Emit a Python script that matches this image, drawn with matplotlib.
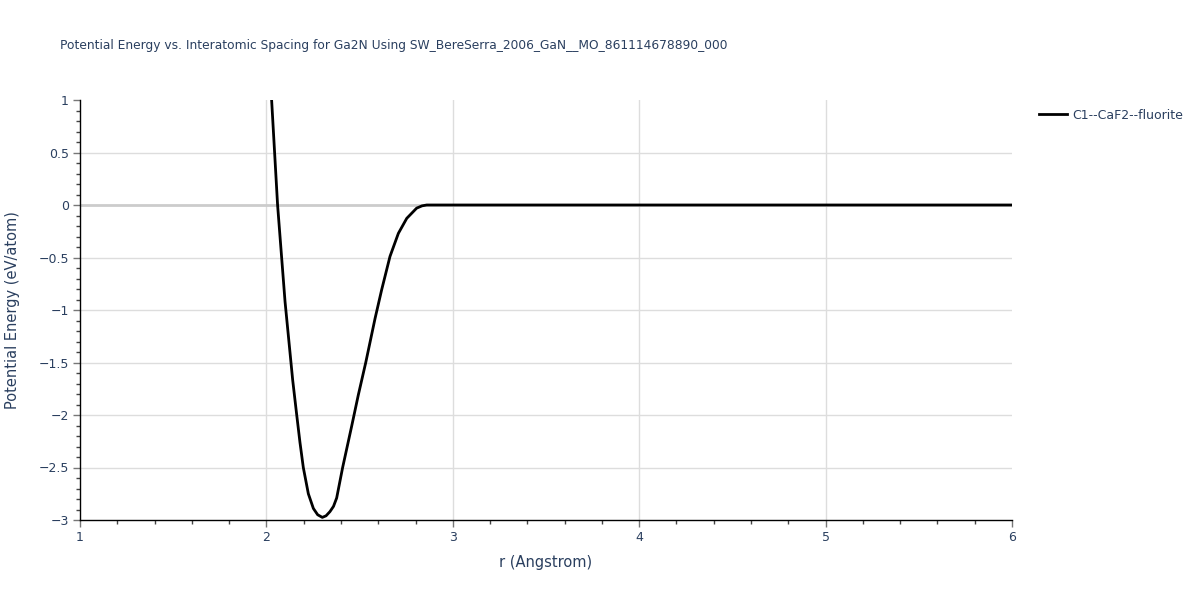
import matplotlib
matplotlib.use("Agg")
import matplotlib.pyplot as plt
import numpy as np
from matplotlib.ticker import MultipleLocator

# values
r_well = [2.0, 2.028, 2.06, 2.10, 2.141, 2.162, 2.18, 2.198, 2.225, 2.252,
          2.275, 2.30, 2.32, 2.341, 2.36, 2.377, 2.409, 2.457, 2.493, 2.533,
          2.583, 2.618, 2.663, 2.708, 2.753, 2.806, 2.835, 2.86, 2.9]
e_well = [1.9, 1.0, 0.0, -0.92, -1.667, -1.99, -2.26, -2.50, -2.75, -2.89,
          -2.95, -2.975, -2.96, -2.92, -2.87, -2.79, -2.50, -2.11, -1.81, -1.5,
          -1.08, -0.81, -0.49, -0.27, -0.127, -0.03, -0.008, 0.0, 0.0]
r_tail = [3.0, 3.5, 4.0, 4.5, 5.0, 5.5, 6.0]
e_tail = [0.0, 0.0, 0.0, 0.0, 0.0, 0.0, 0.0]

x_ticks = [1, 2, 3, 4, 5, 6]
y_ticks = [-3, -2.5, -2, -1.5, -1, -0.5, 0, 0.5, 1]

r = np.array(r_well + r_tail)
energy = np.array(e_well + e_tail)

title = "Potential Energy vs. Interatomic Spacing for Ga2N Using SW_BereSerra_2006_GaN__MO_861114678890_000"
series_name = "C1--CaF2--fluorite"

text_color = "#2a3f5f"
grid_color = "#dddddd"

fig = plt.figure(figsize=(12, 6), dpi=100)
ax = fig.add_axes([80 / 1200, 80 / 600, 932 / 1200, 420 / 600])

# grid only on interior ticks, like the reference
for xv in x_ticks[1:-1]:
    ax.axvline(xv, color=grid_color, linewidth=1, zorder=0)
for yv in y_ticks[1:-1]:
    if yv == 0:
        ax.axhline(yv, color="#cccccc", linewidth=2, zorder=0.5)
    else:
        ax.axhline(yv, color=grid_color, linewidth=1, zorder=0)

ax.plot(r, energy, color="black", linewidth=2, label=series_name)

ax.set_xlim(1, 6)
ax.set_ylim(-3, 1)
ax.set_xticks(x_ticks)
ax.set_yticks(y_ticks)
ax.xaxis.set_minor_locator(MultipleLocator(0.2))
ax.yaxis.set_minor_locator(MultipleLocator(0.1))

for side in ["top", "right"]:
    ax.spines[side].set_visible(False)
for side in ["left", "bottom"]:
    ax.spines[side].set_color("black")
    ax.spines[side].set_linewidth(1)

ax.tick_params(which="major", direction="out", length=5, width=1, color="#777777",
               labelcolor=text_color, labelsize=9, pad=3)
ax.tick_params(which="minor", direction="out", length=3, width=1, color="#444444")

ax.set_yticklabels([f"{v:g}".replace("-", "\u2212") for v in y_ticks])
ax.set_xticklabels([f"{v:g}" for v in x_ticks])

ax.set_xlabel("r (Angstrom)", color=text_color, fontsize=10.5, labelpad=8)
ax.set_ylabel("Potential Energy (eV/atom)", color=text_color, fontsize=10.5, labelpad=13)

fig.text(60 / 1200, 1 - 46 / 600, title, color=text_color, fontsize=8.85, va="center", ha="left")

ax.legend(loc="upper left", bbox_to_anchor=(1.02, 1.0), frameon=False,
          fontsize=9, labelcolor=text_color, handlelength=2.2, handletextpad=0.4,
          borderaxespad=0.3)

fig.savefig("out.png", dpi=100)
